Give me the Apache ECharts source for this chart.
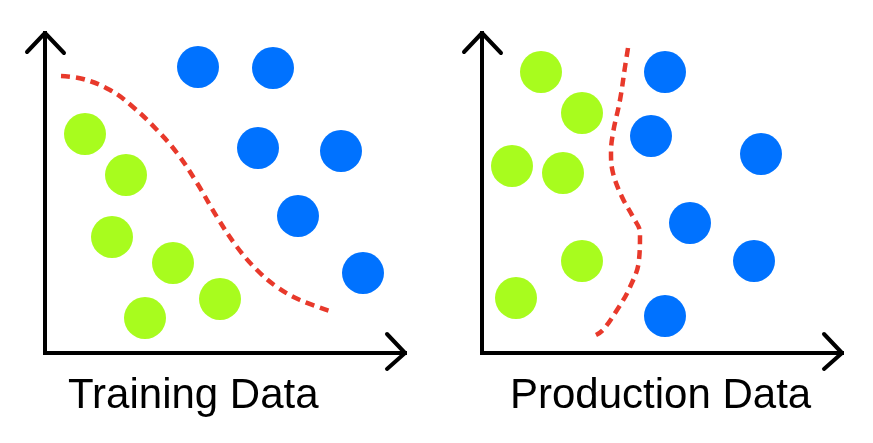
<!DOCTYPE html>
<html>
<head>
<meta charset="utf-8">
<script src="https://cdn.jsdelivr.net/npm/echarts@6/dist/echarts.min.js"></script>
<style>html,body{margin:0;padding:0;background:#fff;}#c{width:873px;height:443px;}</style>
</head>
<body>
<div id="c"></div>
<script>
// Panel titles
const panelTitles = ['Training Data', 'Production Data'];

// Training panel
const trainGreen = [[4.0,21.9],[8.1,17.8],[6.7,11.6],[12.8,9.0],[17.5,5.4],[10.0,3.5]];
const trainBlue = [[15.3,28.6],[22.8,28.5],[21.3,20.5],[29.6,20.2],[25.3,13.7],[31.8,8.0]];
const trainBoundary = [[1.6,27.7],[3.8,27.4],[6.5,26.3],[8.8,24.6],[11.2,22.3],[13.2,20.0],[15.2,17.0],[17.2,13.6],[19.2,10.6],[21.2,8.3],[23.2,6.6],[25.5,5.3],[28.8,4.1]];

// Production panel
const prodGreen = [[5.9,28.1],[10.0,24.0],[3.0,18.7],[8.1,18.0],[10.0,9.2],[3.4,5.5]];
const prodBlue = [[18.3,28.1],[16.9,21.7],[27.9,19.9],[20.8,13.0],[27.2,9.2],[18.3,3.7]];
const prodBoundary = [[14.6,30.5],[14.3,28.6],[13.8,25.3],[13.1,22.0],[12.9,20.0],[13.1,18.0],[14.0,15.6],[15.1,13.6],[15.8,12.0],[15.7,9.3],[14.8,6.6],[13.5,4.3],[12.1,2.3],[11.4,1.8]];

// Axis frame and open arrowheads (data units)
const axisFrame = [[0,32],[0,0],[36,0]];
const yArrowHead = [[-1.8,30.1],[0,32],[1.9,30.0]];
const xArrowHead = [[34.2,1.9],[36,0],[34.2,-1.6]];

const GREEN = '#a8fc1e', BLUE = '#0072ff', RED = '#e8392b';

function panelSeries(i, green, blue, boundary) {
  const base = {xAxisIndex: i, yAxisIndex: i, silent: true, animation: false};
  return [
    Object.assign({type:'line', data: axisFrame, symbol:'none',
      lineStyle:{color:'#000', width:4, cap:'square', join:'miter'}}, base),
    Object.assign({type:'line', data: yArrowHead, symbol:'none',
      lineStyle:{color:'#000', width:4, cap:'round', join:'round'}}, base),
    Object.assign({type:'line', data: xArrowHead, symbol:'none',
      lineStyle:{color:'#000', width:4, cap:'round', join:'round'}}, base),
    Object.assign({type:'scatter', data: green, symbolSize:42, itemStyle:{color:GREEN, opacity:1}}, base),
    Object.assign({type:'scatter', data: blue, symbolSize:42, itemStyle:{color:BLUE, opacity:1}}, base),
    Object.assign({type:'line', data: boundary, symbol:'none', smooth:0.4,
      lineStyle:{color:RED, width:4.5, type:[9,6]}}, base)
  ];
}

const chart = echarts.init(document.getElementById('c'), null, {renderer:'canvas'});
const axisCommon = {type:'value', show:false, min:-4};
chart.setOption({
  backgroundColor:'#fff',
  animation:false,
  title: [
    {text: panelTitles[0], left: 63, top: 370, textStyle:{fontSize:42, fontWeight:'normal', color:'#000', fontFamily:'Liberation Sans, Arial, sans-serif'}},
    {text: panelTitles[1], left: 505, top: 370, textStyle:{fontSize:42, fontWeight:'normal', color:'#000', fontFamily:'Liberation Sans, Arial, sans-serif'}}
  ],
  grid: [
    {left:5, top:13, width:430, height:380},
    {left:442, top:13, width:430, height:380}
  ],
  xAxis: [
    Object.assign({gridIndex:0, max:39}, axisCommon),
    Object.assign({gridIndex:1, max:39}, axisCommon)
  ],
  yAxis: [
    Object.assign({gridIndex:0, max:34}, axisCommon),
    Object.assign({gridIndex:1, max:34}, axisCommon)
  ],
  series: [].concat(
    panelSeries(0, trainGreen, trainBlue, trainBoundary),
    panelSeries(1, prodGreen, prodBlue, prodBoundary)
  )
});
</script>
</body>
</html>
